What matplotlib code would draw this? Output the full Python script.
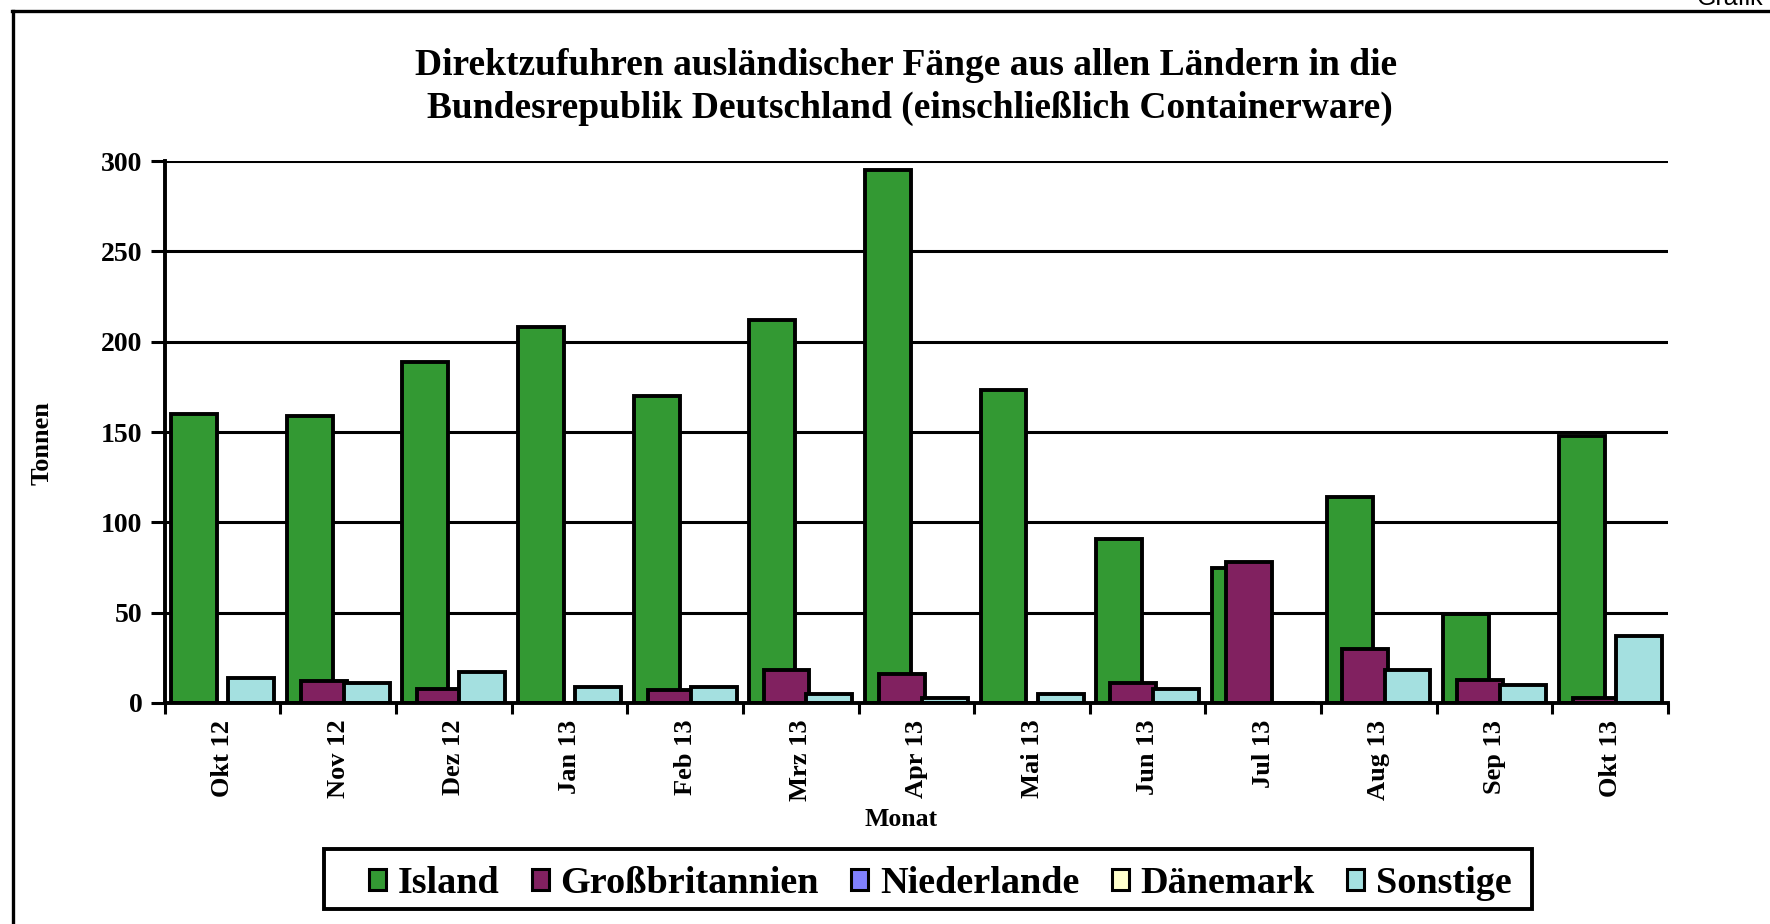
import matplotlib
matplotlib.use("Agg")
import matplotlib.pyplot as plt
from matplotlib.patches import Patch, Rectangle
from matplotlib.lines import Line2D
import numpy as np

plt.rcParams['font.family'] = ['Liberation Serif', 'DejaVu Serif']
plt.rcParams['font.weight'] = 'bold'

months = ["Okt 12", "Nov 12", "Dez 12", "Jan 13", "Feb 13", "Mrz 13", "Apr 13",
          "Mai 13", "Jun 13", "Jul 13", "Aug 13", "Sep 13", "Okt 13"]
island = [160, 159, 189, 208, 170, 212, 295, 173, 91, 75, 114, 49, 148]
grossbritannien = [0, 12, 8, 0, 7, 18, 16, 0, 11, 78, 30, 13, 3]
niederlande = [0] * 13
daenemark = [0] * 13
sonstige = [14, 11, 17, 9, 9, 5, 3, 5, 8, 0, 18, 10, 37]

series_names = ["Island", "Großbritannien", "Niederlande", "Dänemark", "Sonstige"]
series_values = [island, grossbritannien, niederlande, daenemark, sonstige]
colors = ["#339933", "#812160", "#8080FF", "#FFFFCC", "#A4E0E0"]

W, H = 1770, 924
fig = plt.figure(figsize=(W / 100, H / 100), dpi=100)
ax = fig.add_axes([164.8 / W, 1 - 703 / H, (1668 - 164.8) / W, (703 - 161) / H])

x = np.arange(len(months))
bw = 0.397
step = 0.1235
for k, (name, vals, c) in enumerate(zip(series_names, series_values, colors)):
    ax.bar(x + 0.5 + (k - 2) * step, vals, width=bw, color=c, edgecolor="black",
           linewidth=2.8, zorder=3 + k, label=name)

ax.set_xlim(0, len(months))
ax.set_ylim(0, 300)
ax.set_yticks(np.arange(0, 301, 50))
ax.yaxis.grid(True, color="black", linewidth=2.2, zorder=1)
ax.set_axisbelow(True)
ax.set_xticks(np.arange(0, len(months) + 1), minor=False)
ax.set_xticklabels([])
ax.set_xticks(x + 0.5, minor=True)
ax.set_xticklabels(months, minor=True, rotation=90, fontsize=19, fontweight='bold')
ax.tick_params(axis='x', which='minor', length=0, pad=12)
ax.tick_params(axis='x', which='major', length=8, width=2.2, direction='out')
ax.tick_params(axis='y', length=10, width=2.2, direction='out', labelsize=20, pad=6)
for lab in ax.get_yticklabels():
    lab.set_fontweight('bold')
for side in ["top", "right"]:
    ax.spines[side].set_visible(False)
for side in ["left", "bottom"]:
    ax.spines[side].set_linewidth(2.8)
    ax.spines[side].set_zorder(10)

fig.text(906 / W, 1 - 65.5 / H,
         "Direktzufuhren ausländischer Fänge aus allen Ländern in die",
         ha="center", va="center", fontsize=27, fontweight="bold")
fig.text(910 / W, 1 - 108.5 / H,
         "Bundesrepublik Deutschland (einschließlich Containerware)",
         ha="center", va="center", fontsize=27, fontweight="bold")

fig.text(42 / W, 1 - 443 / H, "Tonnen", rotation=90, ha="center", va="center",
         fontsize=19, fontweight="bold")
fig.text(901 / W, 1 - 820 / H, "Monat", ha="center", va="center",
         fontsize=18.5, fontweight="bold")

# legend box
fig.add_artist(Rectangle((324 / W, 1 - 909 / H), (1532 - 324) / W, 60 / H,
                         transform=fig.transFigure, facecolor="white",
                         edgecolor="black", linewidth=2.8, zorder=5))
handles = [Patch(facecolor=c, edgecolor="black", linewidth=2.2) for c in colors]
leg = fig.legend(handles, series_names, loc="center", ncol=5,
                 bbox_to_anchor=(940 / W, 1 - 883.5 / H), frameon=False,
                 fontsize=27.5, handlelength=0.45, handleheight=0.5,
                 handletextpad=0.3, columnspacing=0.85, borderpad=0.2)
leg.set_zorder(6)
for t in leg.get_texts():
    t.set_fontweight("bold")

# outer frame
fig.add_artist(Line2D([12 / W, 1.0], [1 - 11 / H, 1 - 11 / H], color="black",
                      linewidth=2.4, transform=fig.transFigure))
fig.add_artist(Line2D([13 / W, 13 / W], [1 - 11 / H, 0.0], color="black",
                      linewidth=2.4, transform=fig.transFigure))
fig.text(1697 / W, 1 - 5 / H, "Grafik", ha="left", va="baseline",
         fontsize=18, family="Liberation Sans", fontweight="normal")

fig.savefig("out.png", dpi=100)
